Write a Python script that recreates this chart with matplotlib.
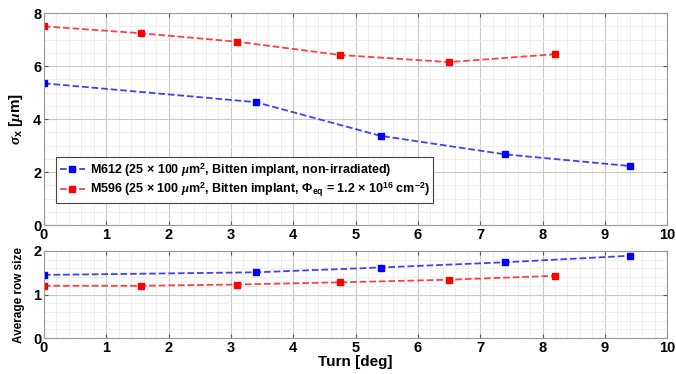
import numpy as np
import matplotlib.pyplot as plt
from matplotlib.ticker import MultipleLocator

plt.rcParams['font.family'] = ['Liberation Sans', 'DejaVu Sans']
plt.rcParams['font.weight'] = 'bold'
plt.rcParams['mathtext.fontset'] = 'custom'
plt.rcParams['mathtext.rm'] = 'Liberation Sans:bold'
plt.rcParams['mathtext.it'] = 'Liberation Serif:italic'
plt.rcParams['mathtext.bf'] = 'Liberation Sans:bold'

# turn angles [deg]
turn_m612 = [0.0, 3.4, 5.4, 7.4, 9.4]
turn_m596 = [0.0, 1.55, 3.1, 4.75, 6.5, 8.2]

# sigma_x [um]
sigma_m612 = [5.35, 4.64, 3.37, 2.67, 2.23]
sigma_m596 = [7.5, 7.24, 6.92, 6.42, 6.15, 6.45]

# average row size
rows_m612 = [1.45, 1.51, 1.62, 1.74, 1.89]
rows_m596 = [1.20, 1.20, 1.23, 1.28, 1.34, 1.43]

lab_m612 = r'M612 (25 $\times$ 100 $\mu$m$^{\mathbf{2}}$, Bitten implant, non-irradiated)'
lab_m596 = (r'M596 (25 $\times$ 100 $\mu$m$^{\mathbf{2}}$, Bitten implant, '
            r'$\Phi_{\mathbf{eq}}$ = 1.2 $\times$ 10$^{\mathbf{16}}$ cm$^{\mathbf{-2}}$)')

fig = plt.figure(figsize=(6.76, 3.74), dpi=100)
ax1 = fig.add_axes([0.065, 0.398, 0.922, 0.567])
ax2 = fig.add_axes([0.065, 0.096, 0.922, 0.233])

blue_line = '#3f3fff'
red_line = '#ff4040'

ax1.plot(turn_m612, sigma_m612, '--s', color=blue_line, mfc='b', mec='b', ms=5, lw=1.3, label=lab_m612)
ax1.plot(turn_m596, sigma_m596, '--s', color=red_line, mfc='r', mec='r', ms=5, lw=1.3, label=lab_m596)
ax2.plot(turn_m612, rows_m612, '--s', color=blue_line, mfc='b', mec='b', ms=5, lw=1.3)
ax2.plot(turn_m596, rows_m596, '--s', color=red_line, mfc='r', mec='r', ms=5, lw=1.3)

ax1.set_ylim(0, 8)
ax1.yaxis.set_major_locator(MultipleLocator(2))
ax1.yaxis.set_minor_locator(MultipleLocator(0.5))
ax2.set_ylim(0, 2)
ax2.yaxis.set_major_locator(MultipleLocator(1))
ax2.yaxis.set_minor_locator(MultipleLocator(0.2))

for ax in (ax1, ax2):
    ax.set_xlim(0, 10)
    ax.xaxis.set_major_locator(MultipleLocator(1))
    ax.xaxis.set_minor_locator(MultipleLocator(0.2))
    ax.grid(True, which='major', color='#c8c8c8', lw=0.8)
    ax.grid(True, which='minor', color='#ececec', lw=0.6)
    ax.set_axisbelow(True)
    ax.tick_params(which='both', direction='in', top=True, right=True, labelsize=10.5, pad=2)
    ax.tick_params(which='minor', length=0)
    ax.tick_params(which='major', length=3, color='#555555')
    for s in ax.spines.values():
        s.set_color('#999999')
        s.set_linewidth(0.8)
    for t in ax.get_xticklabels() + ax.get_yticklabels():
        t.set_fontweight('bold')

ax1.set_ylabel(r'$\sigma_{\mathbf{x}}$ [$\mu$m]', fontsize=11, fontweight='bold', labelpad=6)
ax2.set_ylabel('Average row size', fontsize=8.5, fontweight='bold', labelpad=6)
ax2.set_xlabel('Turn [deg]', fontsize=11, fontweight='bold', labelpad=0)

leg = ax1.legend(loc='lower left', bbox_to_anchor=(0.019, 0.104), borderaxespad=0,
                 fancybox=False, edgecolor='#444444', framealpha=1, fontsize=9,
                 handlelength=2.0, handletextpad=0.4, borderpad=0.3, labelspacing=0.2)
leg.get_frame().set_linewidth(0.8)
for t in leg.get_texts():
    t.set_fontweight('bold')

fig.savefig('out.png', dpi=100)
